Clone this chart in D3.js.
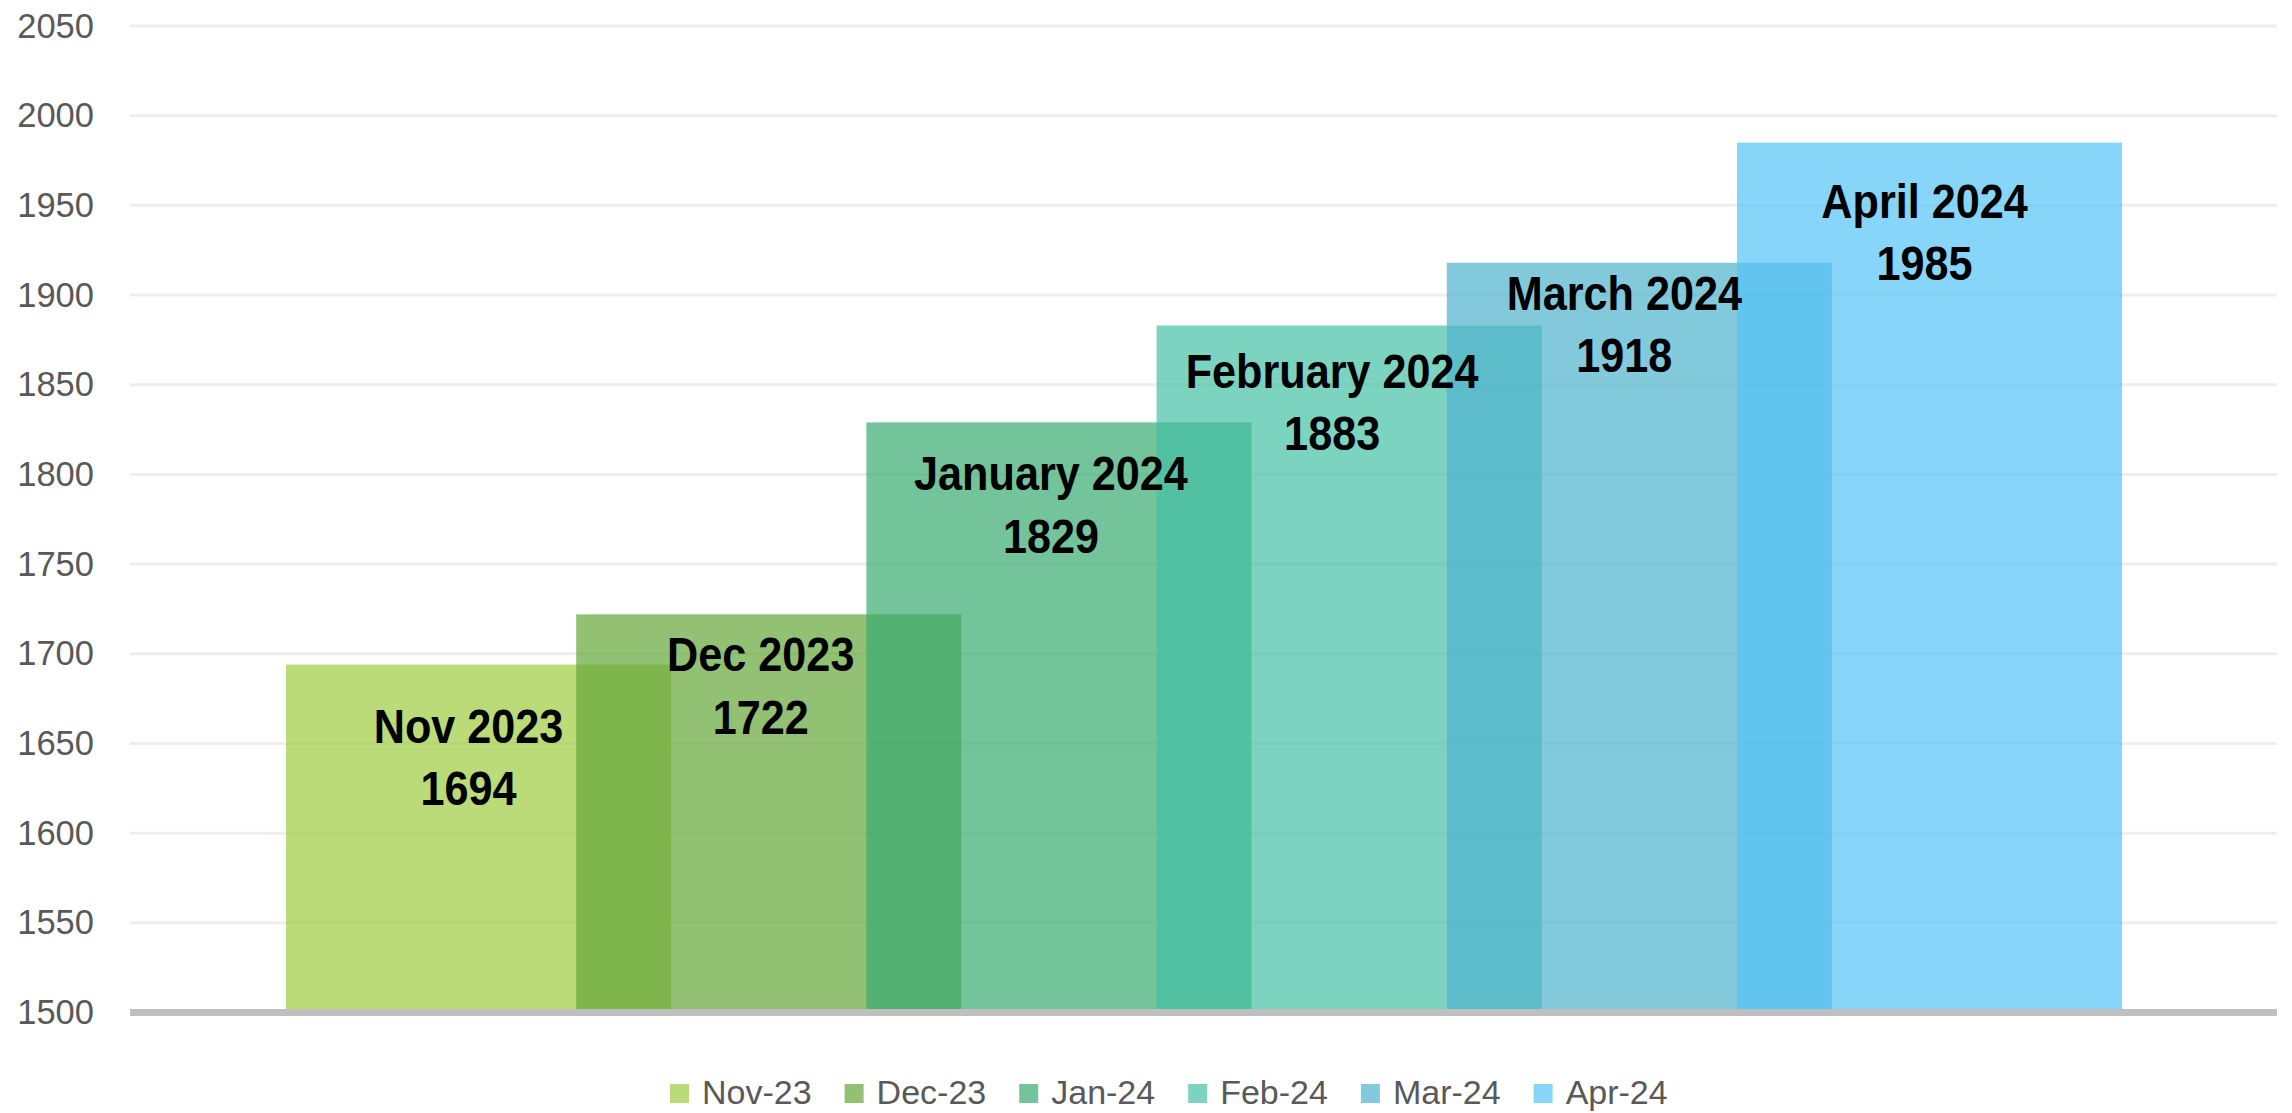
<!DOCTYPE html>
<html>
<head>
<meta charset="utf-8">
<script src="https://cdn.jsdelivr.net/npm/d3@7"></script>
<style>
  html, body { margin: 0; padding: 0; background: #fff; }
  #chart { width: 2292px; height: 1113px; }
</style>
</head>
<body>
<div id="chart"></div>
<script>
// series (one bar per month)
const months = ["Nov-23", "Dec-23", "Jan-24", "Feb-24", "Mar-24", "Apr-24"];
const labelNames = ["Nov 2023", "Dec 2023", "January 2024", "February 2024", "March 2024", "April 2024"];
const values = [1694, 1722, 1829, 1883, 1918, 1985];
const yTicks = [1500, 1550, 1600, 1650, 1700, 1750, 1800, 1850, 1900, 1950, 2000, 2050];

// styling / layout
const barColors = ["#9ccc3e", "#65a638", "#38a970", "#45c0a5", "#4fb2cd", "#54c3f6"];
// labels were dragged by hand in the original: [dx, baseline below bar top]
const labelNudge = [[-10, 78], [-8, 57], [-8, 68], [-17, 62], [-15, 47], [-5, 75]];

class Chart {
  constructor(el) {
    this.el = el;
    this.init();
  }

  init() {
    this.width = 2292;
    this.height = 1113;
    this.plotLeft = 130;
    this.plotRight = 2277;
    this.barOverlap = 1.327; // bar width relative to step

    this.scaleX = d3
      .scaleBand()
      .domain(months)
      .range([286, 286 + 290.2 * months.length])
      .paddingInner(0)
      .paddingOuter(0);

    this.scaleY = d3
      .scaleLinear()
      .domain([1500, 2050])
      .range([1012.5, 26]);

    this.color = d3.scaleOrdinal().domain(months).range(barColors);

    this.svg = d3
      .select(this.el)
      .append("svg")
      .attr("width", this.width)
      .attr("height", this.height)
      .style("font-family", "'Liberation Sans', Arial, sans-serif");
  }

  draw() {
    const y = this.scaleY;
    const x = this.scaleX;
    const bw = x.step() * this.barOverlap;

    // gridlines
    this.svg
      .append("g")
      .attr("class", "grid")
      .selectAll("line")
      .data(yTicks.filter(d => d > 1500))
      .enter()
      .append("line")
      .attr("x1", this.plotLeft)
      .attr("x2", this.plotRight)
      .attr("y1", d => y(d))
      .attr("y2", d => y(d))
      .attr("stroke", "#eeeeee")
      .attr("stroke-width", 3);

    // y labels
    const axisY = d3.axisLeft(y)
      .tickValues(yTicks)
      .tickFormat(d3.format("d"))
      .tickSize(0)
      .tickPadding(0);
    const gy = this.svg
      .append("g")
      .attr("class", "axis--y")
      .attr("transform", "translate(94,0)")
      .call(axisY);
    gy.select(".domain").remove();
    gy.selectAll("text")
      .attr("font-size", 34.5)
      .attr("font-family", "'Liberation Sans', Arial, sans-serif")
      .attr("fill", "#595959")
      .attr("dy", 11);

    const data = months.map((m, i) => ({ month: m, name: labelNames[i], value: values[i], i }));

    // bars
    this.svg
      .append("g")
      .attr("class", "bars")
      .selectAll("rect")
      .data(data)
      .enter()
      .append("rect")
      .attr("x", d => x(d.month))
      .attr("y", d => y(d.value))
      .attr("width", bw)
      .attr("height", d => y(1500) - y(d.value))
      .attr("fill", d => this.color(d.month))
      .attr("fill-opacity", 0.7);

    // x axis line
    this.svg
      .append("line")
      .attr("x1", this.plotLeft)
      .attr("x2", this.plotRight)
      .attr("y1", y(1500))
      .attr("y2", y(1500))
      .attr("stroke", "#bfbfbf")
      .attr("stroke-width", 7);

    // data labels
    const labels = this.svg
      .append("g")
      .attr("class", "labels")
      .selectAll("text")
      .data(data)
      .enter()
      .append("text")
      .attr("transform", d => {
        const cx = x(d.month) + bw / 2 + labelNudge[d.i][0];
        const cy = y(d.value) + labelNudge[d.i][1];
        return `translate(${cx},${cy}) scale(0.9,1)`;
      })
      .attr("text-anchor", "middle")
      .attr("font-size", 48)
      .attr("font-weight", "bold")
      .attr("fill", "#000");
    labels.append("tspan").attr("x", 0).attr("y", 0).text(d => d.name);
    labels.append("tspan").attr("x", 0).attr("y", 62.5).text(d => d.value);

    // legend
    const legend = this.svg.append("g").attr("class", "legend");
    let lx = 670;
    months.forEach(m => {
      const item = legend.append("g").attr("transform", `translate(${lx},0)`);
      item.append("rect")
        .attr("x", 0)
        .attr("y", 1084)
        .attr("width", 19)
        .attr("height", 19)
        .attr("fill", this.color(m))
        .attr("fill-opacity", 0.7);
      const t = item.append("text")
        .attr("x", 32)
        .attr("y", 1104)
        .attr("font-size", 34)
        .attr("fill", "#595959")
        .text(m);
      lx += 32 + t.node().getComputedTextLength() + 33;
    });
  }
}

const chart = new Chart(document.getElementById("chart"));
chart.draw();
</script>
</body>
</html>
